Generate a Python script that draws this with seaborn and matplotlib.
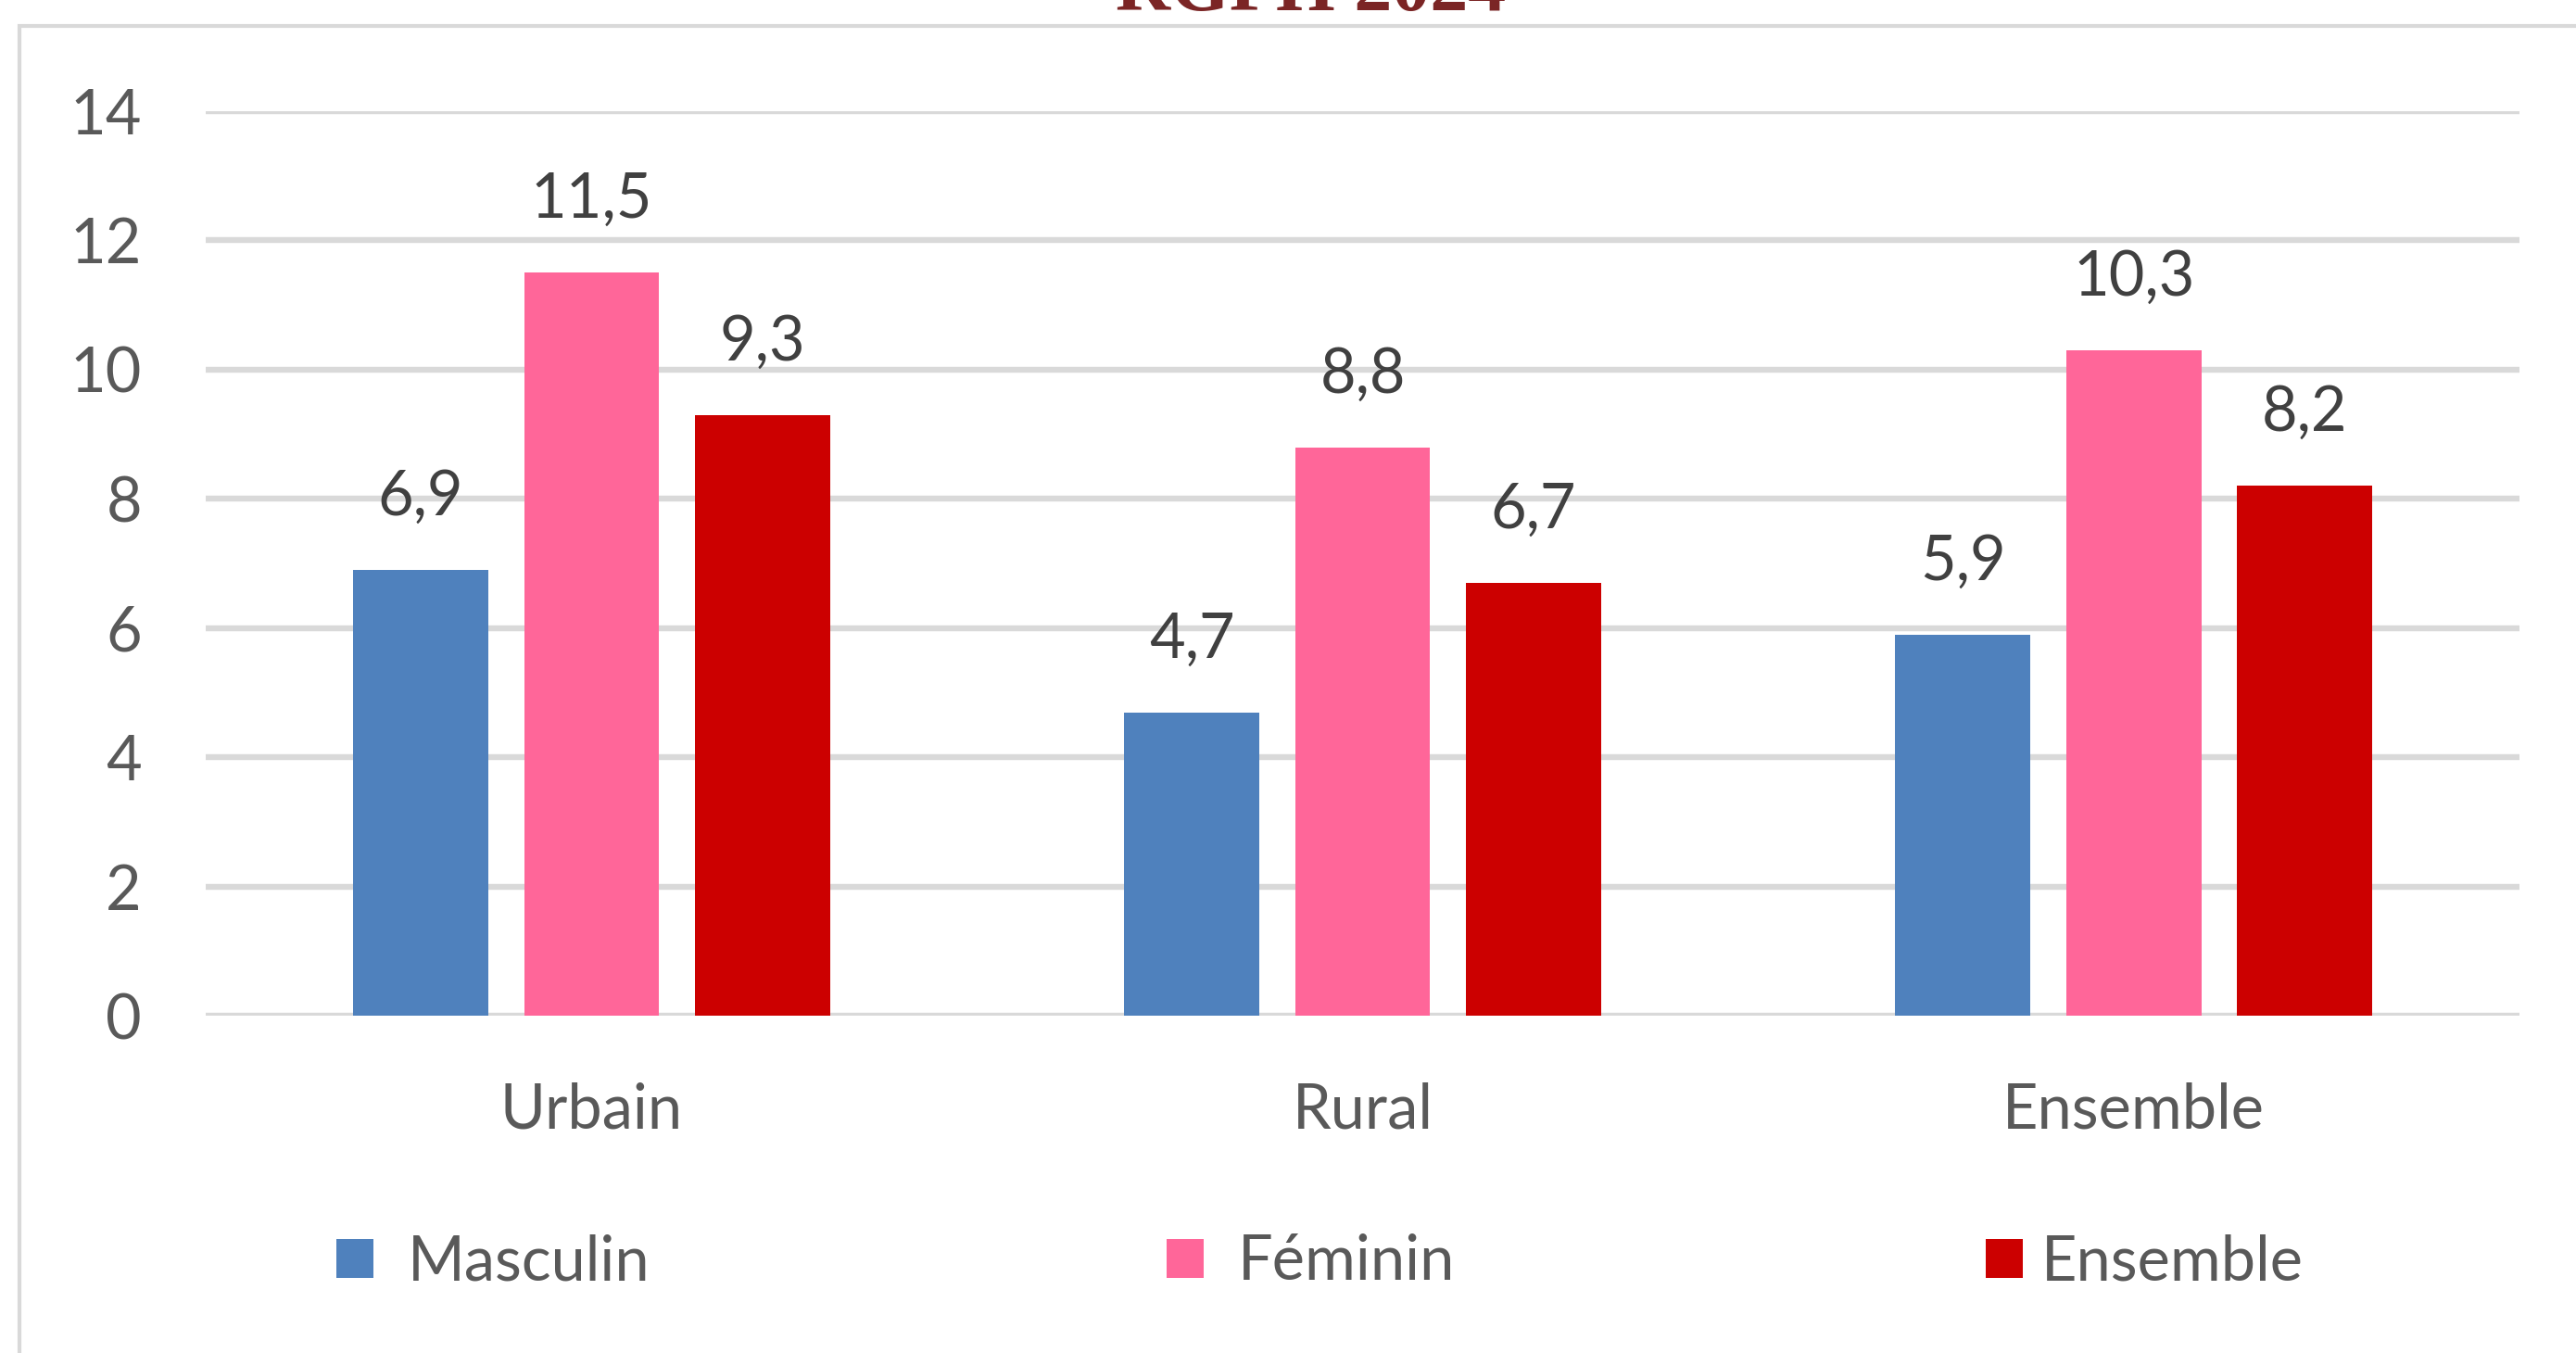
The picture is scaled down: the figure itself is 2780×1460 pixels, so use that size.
import matplotlib
matplotlib.use("Agg")
import matplotlib.pyplot as plt
from matplotlib.patches import Patch, Rectangle
import seaborn as sns
import pandas as pd

# ---- data ----
categories = ["Urbain", "Rural", "Ensemble"]
series_names = ["Masculin", "Féminin", "Ensemble"]
masculin = [6.9, 4.7, 5.9]
feminin = [11.5, 8.8, 10.3]
ensemble = [9.3, 6.7, 8.2]
y_ticks = [0, 2, 4, 6, 8, 10, 12, 14]
title_text = "RGPH 2024"

colors = ["#4F81BD", "#FF6699", "#CC0000"]

rows = []
for name, vals in zip(series_names, [masculin, feminin, ensemble]):
    for c, v in zip(categories, vals):
        rows.append({"Milieu": c, "Sexe": name, "Valeur": v})
df = pd.DataFrame(rows)

sns.set_theme(style="white")
plt.rcParams["font.family"] = ["Lato", "DejaVu Sans"]

FS = 48

fig = plt.figure(figsize=(27.8, 14.6), dpi=100)
ax = fig.add_axes([0.080, 0.249, 0.898, 0.669])

sns.barplot(data=df, x="Milieu", y="Valeur", hue="Sexe", order=categories,
            hue_order=series_names, palette=colors, width=0.665, gap=0.21,
            saturation=1, ax=ax, legend=False, zorder=3, linewidth=0)

ax.set_ylim(0, 14)
ax.set_xlim(-0.5, 2.5)
ax.set_yticks(y_ticks)
ax.set_yticklabels([str(t) for t in y_ticks])
ax.yaxis.grid(True, color="#D9D9D9", linewidth=4.6, zorder=0)
ax.set_axisbelow(True)
for s in ax.spines.values():
    s.set_visible(False)
ax.tick_params(axis="y", length=0, pad=50, labelsize=FS, labelcolor="#595959")
ax.tick_params(axis="x", length=0, pad=51, labelsize=FS, labelcolor="#595959")
ax.set_xlabel("")
ax.set_ylabel("")

for cont in ax.containers:
    labels = [f"{b.get_height():.1f}".replace(".", ",") for b in cont]
    ax.bar_label(cont, labels=labels, padding=34, fontsize=FS, color="#404040")

# legend: three equally spaced entries
legend_x = [363 / 2780, 1259 / 2780, 2143 / 2780]
gaps = [0.55, 0.55, 0.3]
for name, c, lx, g in zip(series_names, colors, legend_x, gaps):
    fig.legend([Patch(facecolor=c, edgecolor="none")], [name],
               loc="center left", bbox_to_anchor=(lx, 0.067),
               frameon=False, fontsize=FS, labelcolor="#595959",
               handlelength=0.6, handleheight=0.6, handletextpad=g,
               borderpad=0, borderaxespad=0)

# chart frame (partially visible)
fig.patches.append(Rectangle((21 / 2780, -0.1), 1.2, 1 - 28 / 1460 + 0.1,
                             transform=fig.transFigure, fill=False,
                             edgecolor="#D9D9D9", linewidth=3))

# cut-off title at top
fig.text(0.509, 1 - 11 / 1460, title_text, ha="center", va="baseline",
         fontsize=59, fontweight="bold", color="#7B2525",
         family=["Liberation Serif", "DejaVu Serif"])

fig.savefig("out.png", dpi=100)
